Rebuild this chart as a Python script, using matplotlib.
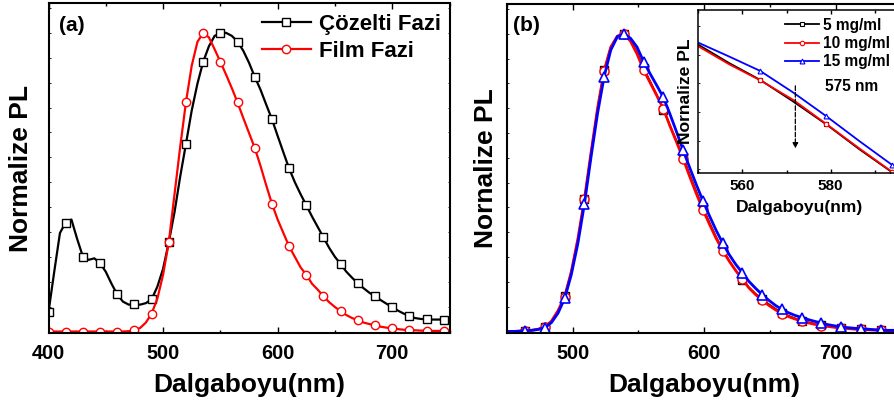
import numpy as np
import matplotlib
matplotlib.use('Agg')
import matplotlib.pyplot as plt
from matplotlib.ticker import MultipleLocator, NullFormatter

plt.rcParams['font.family'] = ['Liberation Sans', 'DejaVu Sans']
plt.rcParams['font.weight'] = 'bold'
plt.rcParams['axes.labelweight'] = 'bold'

# ---- panel (a): solution vs film, sampled every 5 nm (markers every 15 nm)
wl_a = list(range(400, 751, 5))
cozelti = [0.065, 0.20, 0.33, 0.365, 0.375, 0.31, 0.251, 0.24, 0.245, 0.229,
           0.20, 0.16, 0.124, 0.10, 0.09, 0.091, 0.09, 0.095, 0.108, 0.15,
           0.21, 0.299, 0.40, 0.52, 0.629, 0.74, 0.83, 0.903, 0.955, 0.99,
           0.998, 1.0, 0.99, 0.971, 0.94, 0.90, 0.853, 0.81, 0.76, 0.711,
           0.655, 0.60, 0.546, 0.50, 0.46, 0.423, 0.385, 0.35, 0.315, 0.28,
           0.25, 0.226, 0.20, 0.18, 0.161, 0.145, 0.13, 0.118, 0.105, 0.093,
           0.082, 0.07, 0.06, 0.052, 0.045, 0.042, 0.041, 0.040, 0.040, 0.040,
           0.040]
film = [0.0, 0.0, 0.0, 0.0, 0.0, 0.0, 0.0, 0.0, 0.0, 0.0,
        0.0, 0.0, 0.0, 0.0, 0.001, 0.004, 0.012, 0.03, 0.06, 0.11,
        0.19, 0.299, 0.46, 0.62, 0.769, 0.89, 0.97, 1.0, 0.985, 0.945,
        0.903, 0.86, 0.815, 0.767, 0.715, 0.665, 0.615, 0.555, 0.49, 0.428,
        0.375, 0.33, 0.285, 0.25, 0.215, 0.19, 0.16, 0.14, 0.118, 0.098,
        0.082, 0.068, 0.055, 0.045, 0.038, 0.03, 0.025, 0.021, 0.016, 0.013,
        0.011, 0.008, 0.006, 0.005, 0.004, 0.003, 0.003, 0.002, 0.002, 0.002,
        0.002]

# ---- panel (b): three concentrations, sampled every 5 nm (markers every 15 nm)
wl_b = list(range(449, 750, 5))
c5 = [0.000, 0.000, 0.001, 0.003, 0.004, 0.008, 0.015, 0.035, 0.070, 0.118,
      0.200, 0.310, 0.444, 0.600, 0.750, 0.878, 0.955, 0.992, 1.000, 0.978,
      0.938, 0.885, 0.840, 0.795, 0.744, 0.692, 0.640, 0.585, 0.527, 0.470,
      0.417, 0.366, 0.318, 0.276, 0.238, 0.204, 0.174, 0.148, 0.127, 0.108,
      0.092, 0.077, 0.063, 0.053, 0.044, 0.036, 0.031, 0.026, 0.022, 0.018,
      0.015, 0.013, 0.011, 0.009, 0.008, 0.006, 0.005, 0.004, 0.003, 0.003,
      0.002]
c10 = [0.000, 0.000, 0.001, 0.003, 0.004, 0.008, 0.015, 0.035, 0.070, 0.117,
       0.200, 0.310, 0.444, 0.600, 0.750, 0.876, 0.955, 0.992, 1.000, 0.975,
       0.932, 0.878, 0.835, 0.792, 0.748, 0.690, 0.636, 0.580, 0.520, 0.463,
       0.409, 0.360, 0.313, 0.272, 0.236, 0.204, 0.176, 0.146, 0.124, 0.105,
       0.088, 0.073, 0.060, 0.050, 0.042, 0.034, 0.029, 0.024, 0.020, 0.017,
       0.014, 0.012, 0.010, 0.008, 0.007, 0.006, 0.005, 0.004, 0.003, 0.003,
       0.002]
c15 = [0.000, 0.000, 0.001, 0.003, 0.004, 0.007, 0.013, 0.030, 0.062, 0.111,
       0.190, 0.295, 0.428, 0.585, 0.733, 0.856, 0.945, 0.990, 1.000, 0.985,
       0.955, 0.906, 0.865, 0.826, 0.786, 0.730, 0.670, 0.608, 0.550, 0.493,
       0.439, 0.388, 0.340, 0.297, 0.258, 0.225, 0.197, 0.168, 0.145, 0.124,
       0.105, 0.088, 0.074, 0.063, 0.054, 0.047, 0.040, 0.034, 0.028, 0.023,
       0.019, 0.015, 0.013, 0.011, 0.009, 0.008, 0.006, 0.005, 0.004, 0.004,
       0.003]

# ---- inset: zoom around 575 nm
wl_in = [550, 557, 564, 571.5, 579, 586.5, 594, 596]
in5 = [0.865, 0.820, 0.779, 0.726, 0.670, 0.609, 0.552, 0.543]
in10 = [0.861, 0.817, 0.778, 0.730, 0.671, 0.611, 0.553, 0.545]
in15 = [0.870, 0.836, 0.801, 0.748, 0.690, 0.629, 0.570, 0.562]

W, H = 894, 412
fig = plt.figure(figsize=(W / 100, H / 100), dpi=100)


def style_axes(ax, lw=1.5, major=4, minor=2.2, size=14.3):
    for s in ax.spines.values():
        s.set_linewidth(lw)
    ax.tick_params(which='both', direction='in', top=True, right=True, width=1.0)
    ax.tick_params(which='major', length=major, labelsize=size)
    ax.tick_params(which='minor', length=minor)
    ax.tick_params(axis='x', which='major', pad=8)
    ax.tick_params(axis='y', which='both', length=1.5, width=0.6, pad=1)
    ax.yaxis.set_major_formatter(NullFormatter())
    for t in ax.get_xticklabels():
        t.set_fontweight('bold')


# (a)
ax1 = fig.add_axes([48.5 / W, 79 / H, 401 / W, 330 / H])
ax1.plot(wl_a, cozelti, color='black', lw=1.6, marker='s', ms=5.5, mfc='white',
         mec='black', mew=1.0, markevery=3, label='Çözelti Fazi')
ax1.plot(wl_a, film, color='red', lw=1.6, marker='o', ms=6, mfc='white',
         mec='red', mew=1.0, markevery=3, label='Film Fazi')
ax1.set_xlim(400, 750)
ax1.set_ylim(-0.005, 1.1)
ax1.xaxis.set_major_locator(MultipleLocator(100))
ax1.xaxis.set_minor_locator(MultipleLocator(50))
ax1.yaxis.set_major_locator(MultipleLocator(1 / 12))
style_axes(ax1)
ax1.set_xlabel('Dalgaboyu(nm)', fontsize=19, labelpad=7)
ax1.set_ylabel('Normalize PL', fontsize=19, labelpad=10)
ax1.text(0.027, 0.933, '(a)', transform=ax1.transAxes, fontsize=15,
         fontweight='bold', va='center', ha='left')
ax1.legend(loc='upper right', bbox_to_anchor=(1.0, 0.995), frameon=False,
           handlelength=2.2, handletextpad=0.35, labelspacing=0.3,
           borderpad=0.3, borderaxespad=0.1, prop={'weight': 'bold', 'size': 16})

# (b)
ax2 = fig.add_axes([506.7 / W, 79 / H, 395.1 / W, 329 / H])
ax2.plot(wl_b, c5, color='black', lw=1.2, marker='s', ms=6, mfc='white',
         mec='black', mew=1.0, markevery=(3, 3))
ax2.plot(wl_b, c10, color='red', lw=2.0, marker='o', ms=6.5, mfc='white',
         mec='red', mew=1.0, markevery=(3, 3))
ax2.plot(wl_b, c15, color='blue', lw=2.0, marker='^', ms=7.5, mfc='white',
         mec='blue', mew=1.2, markevery=(3, 3))
ax2.set_xlim(450, 750)
ax2.set_ylim(-0.005, 1.1)
ax2.xaxis.set_major_locator(MultipleLocator(100))
ax2.xaxis.set_minor_locator(MultipleLocator(50))
ax2.yaxis.set_major_locator(MultipleLocator(1 / 12))
style_axes(ax2)
ax2.set_xlabel('Dalgaboyu(nm)', fontsize=19, labelpad=7)
ax2.set_ylabel('Nornalize PL', fontsize=19, labelpad=5)
ax2.text(0.017, 0.936, '(b)', transform=ax2.transAxes, fontsize=15,
         fontweight='bold', va='center', ha='left')

# inset
ax3 = fig.add_axes([698.3 / W, (H - 173.3) / H, 202.9 / W, 163.3 / H])
ax3.plot(wl_in, in5, color='black', lw=1.3, marker='s', ms=3, mfc='white',
         mec='black', mew=0.8, markevery=[2, 4, 6], label='5 mg/ml')
ax3.plot(wl_in, in10, color='red', lw=1.3, marker='o', ms=3.2, mfc='white',
         mec='red', mew=0.8, markevery=[2, 4, 6], label='10 mg/ml')
ax3.plot(wl_in, in15, color='blue', lw=1.3, marker='^', ms=3.5, mfc='white',
         mec='blue', mew=0.8, markevery=[2, 4, 6], label='15 mg/ml')
ax3.set_xlim(550, 596)
ax3.set_ylim(0.55, 0.95)
ax3.xaxis.set_major_locator(MultipleLocator(20))
ax3.xaxis.set_minor_locator(MultipleLocator(10))
ax3.yaxis.set_major_locator(MultipleLocator(0.07))
style_axes(ax3, lw=1.1, major=3, minor=2, size=11)
ax3.tick_params(axis='x', which='major', pad=4)
ax3.set_xlabel('Dalgaboyu(nm)', fontsize=12.6, labelpad=5)
ax3.set_ylabel('Nornalize PL', fontsize=12.6, labelpad=3)
ax3.annotate('', xy=(572, 0.604), xytext=(572, 0.771),
             arrowprops=dict(arrowstyle='-|>', linestyle='--', color='black',
                             lw=0.9, mutation_scale=8))
ax3.text(578.7, 0.763, '575 nm', fontsize=11.2, fontweight='bold',
         va='center', ha='left')
ax3.legend(loc='upper left', bbox_to_anchor=(0.372, 1.02), frameon=False,
           handlelength=2.2, handletextpad=0.25, labelspacing=0.22,
           borderpad=0.2, prop={'weight': 'bold', 'size': 11.2})

fig.savefig('out.png', dpi=100)
